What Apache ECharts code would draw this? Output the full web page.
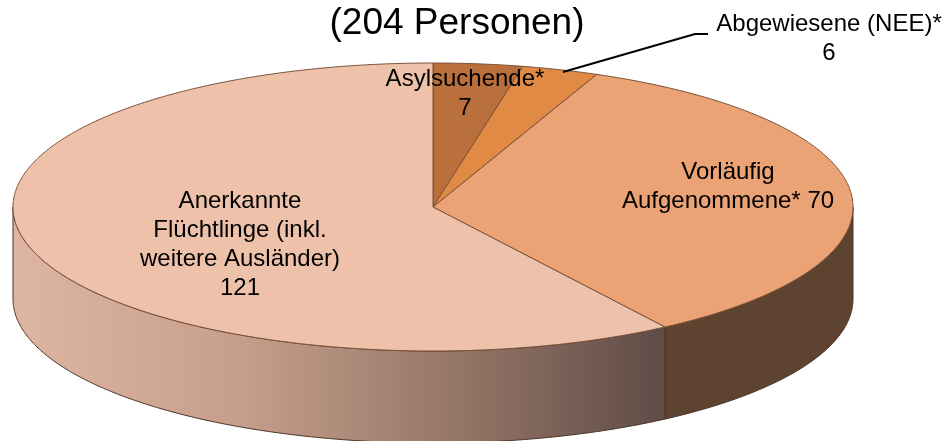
<!DOCTYPE html>
<html>
<head>
<meta charset="utf-8">
<script src="https://cdn.jsdelivr.net/npm/echarts@6/dist/echarts.min.js"></script>
<style>
  html, body { margin: 0; padding: 0; background: #fff; }
  #chart { width: 948px; height: 441px; }
</style>
</head>
<body>
<div id="chart"></div>
<script>
// data
const categories = ['Asylsuchende*', 'Abgewiesene (NEE)*', 'Vorläufig Aufgenommene*', 'Anerkannte Flüchtlinge (inkl. weitere Ausländer)'];
const values = [7, 6, 70, 121];
const labelLines = [
  ['Asylsuchende*', '{v}'],
  ['Abgewiesene (NEE)*', '{v}'],
  ['Vorläufig', 'Aufgenommene* {v}'],
  ['Anerkannte', 'Flüchtlinge (inkl.', 'weitere Ausländer)', '{v}']
];
const titleText = '(204 Personen)';

// layout / style
const CX = 433, CY = 207, RX = 420, RY = 144, DEPTH = 92;
const topColors = ['#B9703C', '#E08A45', '#EBA274', '#EEC2AA'];
const sideColors = [
  '#7A4A28',
  '#8E5A30',
  '#5F4331',
  {
    type: 'linear', x: 14, y: 0, x2: 665, y2: 0, global: true,
    colorStops: [
      { offset: 0, color: '#DEB5A2' },
      { offset: 0.35, color: '#C69E8B' },
      { offset: 0.7, color: '#927365' },
      { offset: 1, color: '#5F4C47' }
    ]
  }
];
// label centres (first line) and leader line
const labelPos = [[465, 79], [829, 24], [728, 172], [240, 201]];
const labelSize = [24, 24, 24, 24];
const leader = { 1: [[563, 72], [695, 34], [708, 34]] };

const total = values.reduce((a, b) => a + b, 0);
const cum = [];
values.reduce((acc, v, i) => { cum[i] = acc; return acc + v; }, 0);

function pt(t, dy) {
  return [CX + RX * Math.sin(t), CY - RY * Math.cos(t) + (dy || 0)];
}
function arc(a, b, dy) {
  const pts = [];
  const n = Math.max(2, Math.ceil((b - a) / (Math.PI / 360)));
  for (let k = 0; k <= n; k++) pts.push(pt(a + (b - a) * k / n, dy));
  return pts;
}

function renderItem(params, api) {
  const i = params.dataIndex;
  const a = cum[i] / total * Math.PI * 2;
  const b = (cum[i] + api.value(0)) / total * Math.PI * 2;
  const children = [];

  // front side wall (only the part facing the viewer)
  const sa = Math.max(a, Math.PI / 2), sb = Math.min(b, Math.PI * 1.5);
  if (sb > sa) {
    const top = arc(sa, sb, 0);
    const bot = arc(sa, sb, DEPTH).reverse();
    children.push({
      type: 'polygon',
      z2: 1,
      shape: { points: top.concat(bot) },
      style: { fill: sideColors[i], stroke: '#4A3326', lineWidth: 1 }
    });
  }

  // top face
  children.push({
    type: 'polygon',
    z2: 2,
    shape: { points: [[CX, CY]].concat(arc(a, b, 0)) },
    style: { fill: topColors[i], stroke: '#7A5038', lineWidth: 1 }
  });

  if (leader[i]) {
    children.push({
      type: 'polyline',
      z2: 50,
      shape: { points: leader[i] },
      style: { stroke: '#000', lineWidth: 2, fill: null }
    });
  }

  const txt = labelLines[i].map(l => l.replace('{v}', api.value(0))).join('\n');
  children.push({
    type: 'text',
    z2: 100,
    x: labelPos[i][0],
    y: labelPos[i][1] - 14.5,
    style: {
      text: txt,
      fill: '#000',
      font: labelSize[i] + 'px "Liberation Sans", Arial, sans-serif',
      lineHeight: 29,
      align: 'center',
      verticalAlign: 'top'
    }
  });

  return { type: 'group', children: children };
}

const chart = echarts.init(document.getElementById('chart'), null, { renderer: 'canvas' });
chart.setOption({
  animation: false,
  title: {
    text: titleText,
    left: 452,
    top: 0,
    textAlign: 'center',
    textStyle: {
      fontFamily: '"Liberation Sans", Arial, sans-serif',
      fontWeight: 'normal',
      fontSize: 37,
      color: '#000'
    }
  },
  series: [{
    type: 'custom',
    coordinateSystem: 'none',
    renderItem: renderItem,
    data: values.map((v, i) => ({ name: categories[i], value: [v] }))
  }]
});
window.addEventListener('resize', () => chart.resize());
</script>
</body>
</html>
